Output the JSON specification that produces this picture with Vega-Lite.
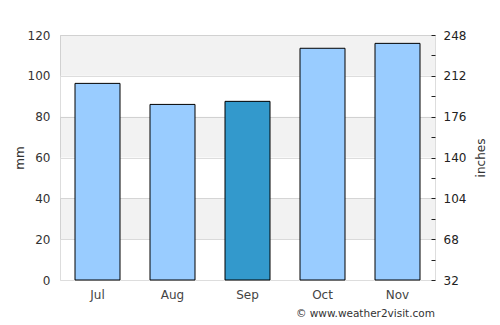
{
  "$schema": "https://vega.github.io/schema/vega-lite/v6.json",
  "width": 375,
  "height": 245,
  "autosize": "none",
  "padding": {"left": 60, "top": 35, "right": 65, "bottom": 45},
  "config": {
    "font": "DejaVu Sans",
    "view": {"stroke": "#dddddd", "strokeWidth": 1},
    "axis": {"labelFont": "DejaVu Sans", "titleFont": "DejaVu Sans", "labelFontSize": 12, "titleFontSize": 12, "labelColor": "#333333", "titleColor": "#333333", "titleFontWeight": "normal"}
  },
  "title": {"text": "© www.weather2visit.com", "orient": "bottom", "anchor": "end", "frame": "group", "fontSize": 10.5, "fontWeight": "normal", "color": "#333333", "offset": 9, "font": "DejaVu Sans"},
  "layer": [
    {
      "layer": [
        {
          "data": {"values": [{"lo": 100, "hi": 120}, {"lo": 60, "hi": 80}, {"lo": 20, "hi": 40}]},
          "mark": {"type": "rect", "fill": "#000000", "fillOpacity": 0.05},
          "encoding": {
            "y": {"field": "lo", "type": "quantitative", "scale": {"domain": [0, 120]}, "axis": {"title": "mm"}},
            "y2": {"field": "hi"}
          }
        },
        {
          "data": {"values": [
            {"month": "Jul", "mm": 96.3, "current": "no"},
            {"month": "Aug", "mm": 86.0, "current": "no"},
            {"month": "Sep", "mm": 87.5, "current": "yes"},
            {"month": "Oct", "mm": 113.5, "current": "no"},
            {"month": "Nov", "mm": 115.9, "current": "no"}
          ]},
          "mark": {"type": "bar", "stroke": "#000000", "strokeWidth": 1},
          "encoding": {
            "x": {"field": "month", "type": "nominal", "sort": null,
                  "scale": {"paddingInner": 0.4, "paddingOuter": 0.2},
                  "axis": {"title": null, "labelAngle": 0, "ticks": false, "domain": false, "labelPadding": 9, "labelColor": "#444444"}},
            "y": {"field": "mm", "type": "quantitative", "scale": {"domain": [0, 120]},
                  "axis": {"title": "mm", "values": [0, 20, 40, 60, 80, 100, 120], "ticks": false, "domain": false, "grid": true, "gridColor": "#dddddd", "labelPadding": 10, "titlePadding": 1}},
            "fill": {"field": "current", "type": "nominal", "scale": {"domain": ["no", "yes"], "range": ["#99ccff", "#3399cc"]}, "legend": null}
          }
        }
      ]
    },
    {
      "data": {"values": [
        {"month": "Jul"}, {"month": "Aug"}, {"month": "Sep"}, {"month": "Oct"}, {"month": "Nov"}
      ]},
      "mark": {"type": "point", "opacity": 0},
      "encoding": {
        "x": {"field": "month", "type": "nominal", "sort": null},
        "y": {"datum": 32, "type": "quantitative", "scale": {"domain": [32, 248]},
              "axis": {"orient": "right", "title": "inches", "titleAngle": 270, "titleBaseline": "top", "values": [32, 50, 68, 86, 104, 122, 140, 158, 176, 194, 212, 230, 248],
                       "labelExpr": "(datum.value - 32) % 36 == 0 ? datum.label : ''",
                       "offset": -4, "tickSize": 4, "tickColor": "#222222", "domain": false, "grid": false, "labelPadding": 8, "titlePadding": 10, "labelColor": "#222222"}}
      }
    }
  ],
  "resolve": {"scale": {"y": "independent"}}
}
